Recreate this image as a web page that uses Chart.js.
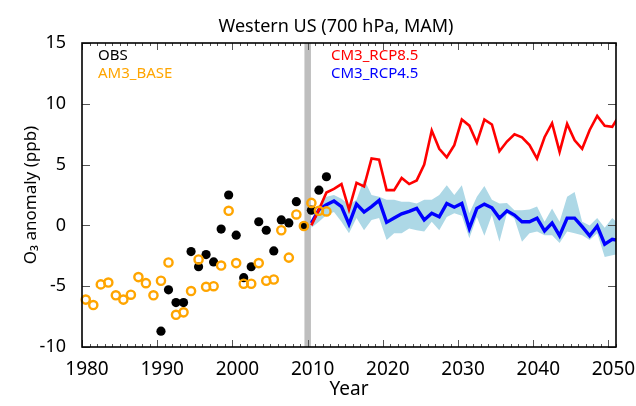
<!DOCTYPE html>
<html>
<head>
<meta charset="utf-8">
<title>Western US ozone anomalies</title>
<script src="https://cdn.jsdelivr.net/npm/chart.js"></script>
<style>
  html, body { margin: 0; padding: 0; background: #ffffff; }
</style>
</head>
<body>
<canvas id="o3Chart" width="636" height="406"></canvas>
<script>
// ===================================
// Springtime (MAM) O3 anomalies at 700 hPa, western US
// Observations + AM3 hindcast, then CM3 projections
// ===================================

// Observed anomalies (ppb)
const obsYears = [1990, 1991, 1992, 1993, 1994, 1995, 1996, 1997, 1998, 1999,
    2000, 2001, 2002, 2003, 2004, 2005, 2006, 2007, 2008, 2009, 2010, 2011, 2012];
const obsValues = [-8.7, -5.3, -6.35, -6.35, -2.15, -3.4, -2.4, -3.0, -0.3, 2.5,
    -0.8, -4.3, -3.4, 0.3, -0.4, -2.1, 0.45, 0.2, 1.95, -0.05, 1.25, 2.9, 4.0];

// AM3 base simulation (ppb)
const am3Years = [1980, 1981, 1982, 1983, 1984, 1985, 1986, 1987, 1988, 1989,
    1990, 1991, 1992, 1993, 1994, 1995, 1996, 1997, 1998, 1999,
    2000, 2001, 2002, 2003, 2004, 2005, 2006, 2007, 2008, 2009, 2010, 2011, 2012];
const am3Values = [-6.1, -6.55, -4.85, -4.7, -5.75, -6.1, -5.7, -4.25, -4.75, -5.75,
    -4.55, -3.05, -7.35, -7.15, -5.4, -2.8, -5.05, -5.0, -3.3, 1.2,
    -3.1, -4.8, -4.8, -3.1, -4.55, -4.45, -0.4, -2.65, 0.9, -0.05, 1.85, 1.2, 1.15];

// CM3 projections (ppb)
const cm3Years = [2010, 2011, 2012, 2013, 2014, 2015, 2016, 2017, 2018, 2019,
    2020, 2021, 2022, 2023, 2024, 2025, 2026, 2027, 2028, 2029,
    2030, 2031, 2032, 2033, 2034, 2035, 2036, 2037, 2038, 2039,
    2040, 2041, 2042, 2043, 2044, 2045, 2046, 2047, 2048, 2049, 2050, 2051];
const rcp85Values = [0.0, 1.3, 2.7, 3.0, 3.4, 1.3, 3.5, 3.2, 5.5, 5.4,
    2.9, 2.9, 3.9, 3.4, 3.7, 5.0, 7.8, 6.3, 5.6, 6.6,
    8.7, 8.2, 6.8, 8.7, 8.3, 6.1, 6.9, 7.5, 7.25, 6.6,
    5.5, 7.25, 8.4, 6.05, 8.35, 7.0, 6.3, 7.85, 9.0, 8.2, 8.1, 9.1];
const rcp45Values = [0.2, 1.3, 1.7, 2.0, 1.55, 0.1, 1.75, 1.1, 1.55, 2.05,
    0.25, 0.6, 0.95, 1.15, 1.4, 0.45, 1.0, 0.7, 1.8, 1.5,
    1.8, -0.25, 1.4, 1.75, 1.45, 0.6, 1.2, 0.85, 0.3, 0.3,
    0.6, -0.45, 0.2, -0.85, 0.6, 0.6, -0.1, -0.85, -0.05, -1.55, -1.15, -1.25];
// RCP4.5 ensemble spread
const rcp45High = [0.3, 1.6, 2.35, 2.5, 2.2, 1.7, 2.1, 3.8, 2.5, 2.35,
    2.1, 2.1, 1.95, 1.95, 1.8, 2.1, 2.1, 2.5, 3.3, 2.5,
    3.3, 1.0, 2.35, 3.25, 2.1, 1.8, 1.85, 1.25, 1.25, 1.3,
    1.55, 0.3, 1.4, 0.3, 2.35, 2.75, 0.3, 0.0, 0.6, -0.2, 0.6, 0.05];
const rcp45Low = [-0.2, 0.3, 0.85, 1.1, 0.3, -0.65, 0.6, -0.4, 0.45, 0.6,
    -1.2, -0.65, -0.65, -0.25, -0.4, -0.5, 0.3, -0.4, 0.7, 1.0,
    0.8, -1.05, 0.7, -0.85, 0.85, -1.35, 1.0, 0.55, -1.35, -0.65,
    -0.5, -0.8, -0.8, -1.45, -0.5, -0.65, -0.8, -1.2, -0.65, -2.6, -2.45, -2.35];

const xTickYears = [1980, 1990, 2000, 2010, 2020, 2030, 2040, 2050];
const yTickValues = [-10, -5, 0, 5, 10, 15];
const projectionStart = 2010;

const legendLeft = ['OBS', 'AM3_BASE'];
const legendRight = ['CM3_RCP8.5', 'CM3_RCP4.5'];

const FONT = '"Noto Sans", "Open Sans", sans-serif';
const COLORS = {
    obs: '#000000',
    am3: '#FFA500',
    rcp85: '#FF0000',
    rcp45: '#0000FF',
    spread: '#ADD8E6',
    divider: '#BEBEBE'
};

// annual means sit at mid-year
function toPoints(years, values) {
    return years.map((yr, i) => ({ x: yr + 0.5, y: values[i] }));
}

// gray bar marking where the projections begin
const dividerPlugin = {
    id: 'divider',
    beforeDatasetsDraw(chart) {
        const { ctx, chartArea, scales } = chart;
        const x = scales.x.getPixelForValue(projectionStart);
        ctx.save();
        ctx.fillStyle = COLORS.divider;
        ctx.fillRect(x - 3.2, chartArea.top, 6.5, chartArea.bottom - chartArea.top);
        ctx.restore();
    }
};

// box, inward ticks, title and text legend
const framePlugin = {
    id: 'frame',
    afterDraw(chart) {
        const { ctx, chartArea: a, scales } = chart;
        ctx.save();

        // x ticks: every year, longer on decades
        ctx.strokeStyle = '#555555';
        ctx.lineWidth = 1;
        for (let yr = 1980; yr <= 2051; yr++) {
            const x = Math.round(scales.x.getPixelForValue(yr)) + 0.5;
            const len = yr % 10 === 0 ? 7 : 3;
            ctx.beginPath();
            ctx.moveTo(x, a.bottom);
            ctx.lineTo(x, a.bottom - len);
            ctx.moveTo(x, a.top);
            ctx.lineTo(x, a.top + len);
            ctx.stroke();
        }
        // y ticks on both sides
        yTickValues.forEach(v => {
            const y = Math.round(scales.y.getPixelForValue(v)) + 0.5;
            ctx.beginPath();
            ctx.moveTo(a.left, y);
            ctx.lineTo(a.left + 8, y);
            ctx.moveTo(a.right, y);
            ctx.lineTo(a.right - 8, y);
            ctx.stroke();
        });

        ctx.strokeStyle = '#000000';
        ctx.lineWidth = 1.6;
        ctx.strokeRect(a.left, a.top, a.right - a.left, a.bottom - a.top);

        // title
        ctx.fillStyle = '#000000';
        ctx.font = '18px ' + FONT;
        ctx.textAlign = 'center';
        ctx.textBaseline = 'middle';
        ctx.fillText('Western US (700 hPa, MAM)', 336, 27);

        // legend text
        ctx.font = '15px ' + FONT;
        ctx.textAlign = 'left';
        ctx.textBaseline = 'alphabetic';
        ctx.fillStyle = COLORS.obs;
        ctx.fillText(legendLeft[0], 98, 60);
        ctx.fillStyle = COLORS.am3;
        ctx.fillText(legendLeft[1], 98, 78);
        ctx.fillStyle = COLORS.rcp85;
        ctx.fillText(legendRight[0], 331, 60);
        ctx.fillStyle = COLORS.rcp45;
        ctx.fillText(legendRight[1], 331, 78);

        ctx.restore();
    }
};

const ctx = document.getElementById('o3Chart');

new Chart(ctx, {
    type: 'line',
    data: {
        datasets: [
            {
                label: 'AM3_BASE',
                data: toPoints(am3Years, am3Values),
                showLine: false,
                pointRadius: 4.1,
                pointBorderWidth: 2.4,
                pointBorderColor: COLORS.am3,
                pointBackgroundColor: 'rgba(0,0,0,0)',
                borderColor: COLORS.am3,
                clip: false,
                order: 0
            },
            {
                label: 'OBS',
                data: toPoints(obsYears, obsValues),
                showLine: false,
                pointRadius: 4.6,
                pointBorderWidth: 0,
                pointBackgroundColor: COLORS.obs,
                borderColor: COLORS.obs,
                clip: false,
                order: 1
            },
            {
                label: 'CM3_RCP8.5',
                data: toPoints(cm3Years, rcp85Values),
                borderColor: COLORS.rcp85,
                borderWidth: 2.6,
                pointRadius: 0,
                tension: 0,
                fill: false,
                clip: 0,
                order: 2
            },
            {
                label: 'CM3_RCP4.5',
                data: toPoints(cm3Years, rcp45Values),
                borderColor: COLORS.rcp45,
                borderWidth: 3.4,
                pointRadius: 0,
                tension: 0,
                fill: false,
                clip: 0,
                order: 3
            },
            {
                label: 'RCP4.5 high',
                data: toPoints(cm3Years, rcp45High),
                borderColor: 'rgba(0,0,0,0)',
                borderWidth: 0,
                backgroundColor: COLORS.spread,
                pointRadius: 0,
                fill: '+1',
                clip: 0,
                order: 4
            },
            {
                label: 'RCP4.5 low',
                data: toPoints(cm3Years, rcp45Low),
                borderColor: 'rgba(0,0,0,0)',
                borderWidth: 0,
                pointRadius: 0,
                fill: false,
                clip: 0,
                order: 5
            }
        ]
    },
    options: {
        responsive: false,
        devicePixelRatio: 1,
        animation: false,
        events: [],
        layout: {
            padding: { top: 43, right: 20, left: 0, bottom: 0 }
        },
        plugins: {
            legend: { display: false },
            title: { display: false },
            tooltip: { enabled: false }
        },
        scales: {
            x: {
                type: 'linear',
                min: 1980,
                max: 2051,
                afterBuildTicks: scale => {
                    scale.ticks = xTickYears.map(v => ({ value: v }));
                },
                afterFit: scale => { scale.height = 59; },
                grid: { display: false },
                border: { display: false },
                ticks: {
                    font: { family: FONT, size: 19 },
                    color: '#000000',
                    padding: 3,
                    labelOffset: 5,
                    maxRotation: 0,
                    autoSkip: false,
                    callback: value => String(value)
                },
                title: {
                    display: true,
                    text: 'Year',
                    color: '#000000',
                    font: { family: FONT, size: 19 },
                    padding: { top: 0, bottom: 5 }
                }
            },
            y: {
                type: 'linear',
                min: -10,
                max: 15,
                afterBuildTicks: scale => {
                    scale.ticks = yTickValues.map(v => ({ value: v }));
                },
                afterFit: scale => { scale.width = 82; },
                grid: { display: false },
                border: { display: false },
                ticks: {
                    font: { family: FONT, size: 18 },
                    color: '#000000',
                    padding: 8,
                    callback: value => String(value)
                },
                title: {
                    display: true,
                    text: 'O₃ anomaly (ppb)',
                    color: '#000000',
                    font: { family: FONT, size: 17 },
                    padding: { top: 21, bottom: 0 }
                }
            }
        }
    },
    plugins: [dividerPlugin, framePlugin]
});
</script>
</body>
</html>
